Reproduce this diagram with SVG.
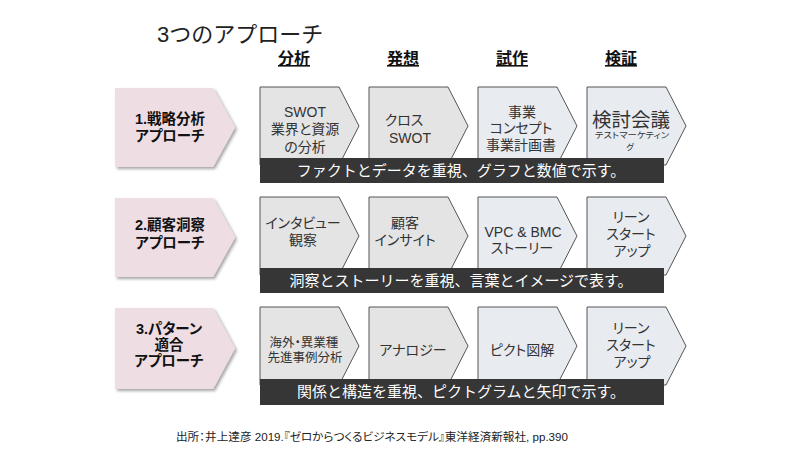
<svg xmlns="http://www.w3.org/2000/svg" width="800" height="450" viewBox="0 0 800 450">
<defs>
<filter id="sh" x="-10%" y="-10%" width="130%" height="130%">
<feDropShadow dx="2" dy="2" stdDeviation="1.5" flood-color="#000" flood-opacity="0.35"/>
</filter>
<style>
text{font-family:"Liberation Sans","Noto Sans CJK JP",sans-serif;font-feature-settings:"palt";}
.title{font-size:22px;fill:#222;font-feature-settings:normal;}
.hd{font-size:16px;font-weight:bold;fill:#111;text-anchor:middle;text-decoration:underline;}
.pink{fill:#eedde2;filter:url(#sh);}
.pt{font-size:14.5px;font-weight:bold;fill:#111;text-anchor:middle;}
.cg{fill:#e4e4e4;stroke:#555;stroke-width:1;}
.cb{fill:#e8ebf0;stroke:#555;stroke-width:1;}
.ct{font-size:14px;fill:#333;text-anchor:middle;}
.bar{fill:#363636;}
.bt{font-size:15px;fill:#fff;text-anchor:middle;font-feature-settings:normal;}
.ft{font-size:11px;fill:#222;}
</style>
</defs>
<rect width="800" height="450" fill="#fff"/>
<text class="title" x="157" y="42">3つのアプローチ</text>
<g id="headers">
<text class="hd" x="294" y="64">分析</text>
<text class="hd" x="403" y="64">発想</text>
<text class="hd" x="512" y="64">試作</text>
<text class="hd" x="621" y="64">検証</text>
</g>
<g id="connectors"></g>
<!-- Row 1 -->
<g id="approach1">
<path class="pink" d="M115,88 H213 L235,127.5 L213,167 H115 Z"/>
<text class="pt" x="170" y="124">1.戦略分析</text>
<text class="pt" x="170" y="141">アプローチ</text>
</g>
<g id="r1c1"><path class="cg" d="M260,87 H339 L359,126 L339,165 H260 Z"/>
<text class="ct" x="305" y="117">SWOT</text><text class="ct" x="305" y="134">業界と資源</text><text class="ct" x="305" y="152">の分析</text></g>
<g id="r1c2"><path class="cg" d="M369,87 H448 L468,126 L448,165 H369 Z"/>
<text class="ct" x="404" y="125">クロス</text><text class="ct" x="410" y="143">SWOT</text></g>
<g id="r1c3"><path class="cb" d="M478,87 H557 L577,126 L557,165 H478 Z"/>
<text class="ct" x="522" y="117">事業</text><text class="ct" x="521" y="133">コンセプト</text><text class="ct" x="521" y="150">事業計画書</text></g>
<g id="r1c4"><path class="cb" d="M587,87 H666 L686,126 L666,165 H587 Z"/>
<text class="ct" x="631" y="127" style="font-size:19.5px">検討会議</text>
<text class="ct" x="632" y="138" style="font-size:8.5px" textLength="74" lengthAdjust="spacingAndGlyphs">テストマーケティン</text>
<text class="ct" x="630" y="150" style="font-size:8.5px">グ</text></g>
<g id="bar1"><rect class="bar" x="260" y="158" width="404" height="25"/>
<text class="bt" x="461" y="176">ファクトとデータを重視、グラフと数値で示す。</text></g>
<!-- Row 2 -->
<g id="approach2">
<path class="pink" d="M115,198 H213 L235,237.5 L213,277 H115 Z"/>
<text class="pt" x="170" y="230">2.顧客洞察</text>
<text class="pt" x="170" y="248">アプローチ</text>
</g>
<g id="r2c1"><path class="cg" d="M260,197 H339 L359,236 L339,275 H260 Z"/>
<text class="ct" x="303" y="228">インタビュー</text><text class="ct" x="303" y="245">観察</text></g>
<g id="r2c2"><path class="cg" d="M369,197 H448 L468,236 L448,275 H369 Z"/>
<text class="ct" x="405" y="228">顧客</text><text class="ct" x="405" y="245">インサイト</text></g>
<g id="r2c3"><path class="cb" d="M478,197 H557 L577,236 L557,275 H478 Z"/>
<text class="ct" x="523" y="237">VPC &amp; BMC</text><text class="ct" x="522" y="253">ストーリー</text></g>
<g id="r2c4"><path class="cb" d="M587,197 H666 L686,236 L666,275 H587 Z"/>
<text class="ct" x="631" y="222">リーン</text><text class="ct" x="631" y="239">スタート</text><text class="ct" x="632" y="256">アップ</text></g>
<g id="bar2"><rect class="bar" x="260" y="268" width="404" height="25"/>
<text class="bt" x="461" y="286">洞察とストーリーを重視、言葉とイメージで表す。</text></g>
<!-- Row 3 -->
<g id="approach3">
<path class="pink" d="M115,308 H213 L235,348.5 L213,389 H115 Z"/>
<text class="pt" x="169" y="334">3.パターン</text>
<text class="pt" x="169" y="350">適合</text>
<text class="pt" x="169" y="366">アプローチ</text>
</g>
<g id="r3c1"><path class="cg" d="M260,307 H339 L359,346 L339,385 H260 Z"/>
<text class="ct" x="304" y="347" style="font-size:12.5px">海外・異業種</text><text class="ct" x="305" y="362" style="font-size:12.5px">先進事例分析</text></g>
<g id="r3c2"><path class="cg" d="M369,307 H448 L468,346 L448,385 H369 Z"/>
<text class="ct" x="413" y="355">アナロジー</text></g>
<g id="r3c3"><path class="cb" d="M478,307 H557 L577,346 L557,385 H478 Z"/>
<text class="ct" x="522" y="355">ピクト図解</text></g>
<g id="r3c4"><path class="cb" d="M587,307 H666 L686,346 L666,385 H587 Z"/>
<text class="ct" x="631" y="333">リーン</text><text class="ct" x="631" y="350">スタート</text><text class="ct" x="632" y="367">アップ</text></g>
<g id="bar3"><rect class="bar" x="260" y="379" width="404" height="26"/>
<text class="bt" x="461" y="397">関係と構造を重視、ピクトグラムと矢印で示す。</text></g>
<text class="ft" x="176" y="441" textLength="392" lengthAdjust="spacingAndGlyphs">出所：井上達彦 2019.『ゼロからつくるビジネスモデル』東洋経済新報社, pp.390</text>
</svg>
